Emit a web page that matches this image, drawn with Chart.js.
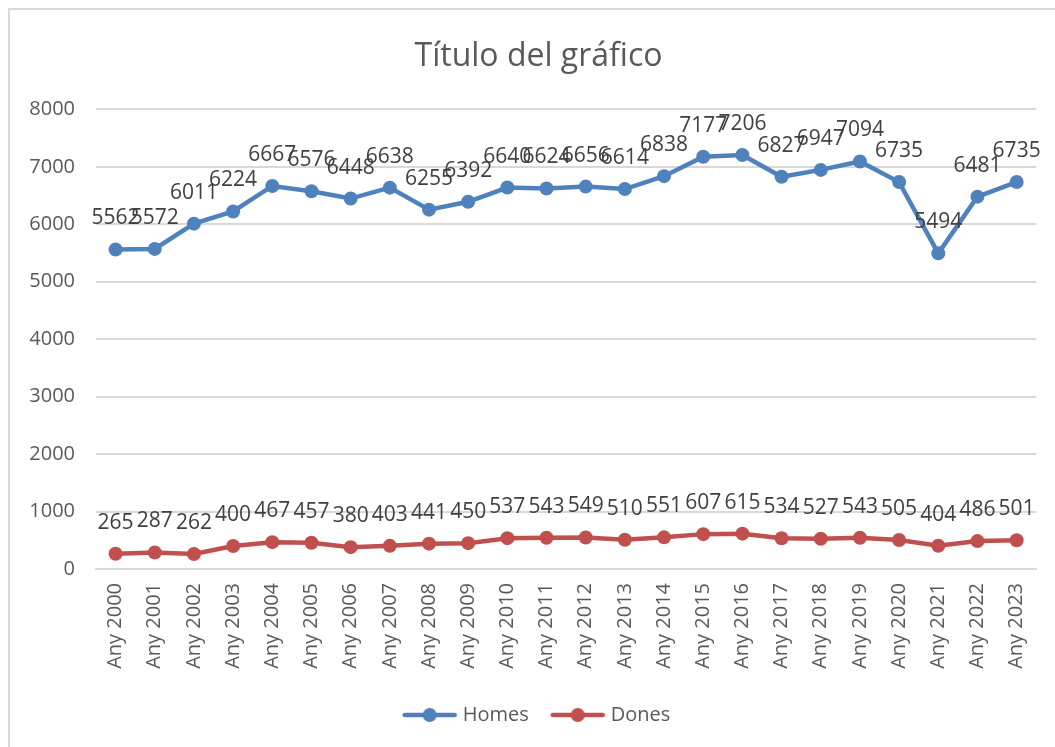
<!DOCTYPE html>
<html>
<head>
<meta charset="utf-8">
<title>Título del gráfico</title>
<script src="https://cdn.jsdelivr.net/npm/chart.js@4/dist/chart.umd.min.js"></script>
<style>
  body { margin: 0; background: #fff; }
  #caja { position: relative; width: 1055px; height: 747px; overflow: hidden; }
  #marco { position: absolute; left: 8px; top: 8px; width: 1100px; height: 800px;
           border-left: 2px solid #d9d9d9; border-top: 2px solid #d9d9d9; }
  canvas { position: absolute; left: 0; top: 0; }
</style>
</head>
<body>
<div id="caja">
  <div id="marco"></div>
  <canvas id="grafico" width="1055" height="747"></canvas>
</div>
<script>
const anys = ["Any 2000", "Any 2001", "Any 2002", "Any 2003", "Any 2004", "Any 2005",
  "Any 2006", "Any 2007", "Any 2008", "Any 2009", "Any 2010", "Any 2011", "Any 2012",
  "Any 2013", "Any 2014", "Any 2015", "Any 2016", "Any 2017", "Any 2018", "Any 2019",
  "Any 2020", "Any 2021", "Any 2022", "Any 2023"];
const homes = [5562, 5572, 6011, 6224, 6667, 6576, 6448, 6638, 6255, 6392, 6640, 6624,
  6656, 6614, 6838, 7177, 7206, 6827, 6947, 7094, 6735, 5494, 6481, 6735];
const dones = [265, 287, 262, 400, 467, 457, 380, 403, 441, 450, 537, 543,
  549, 510, 551, 607, 615, 534, 527, 543, 505, 404, 486, 501];

const AZUL = "#4f81bd";
const ROJO = "#c0504d";
const GRIS = "#595959";
const FUENTE = "'Open Sans', sans-serif";

// icono de leyenda: linea con punto
function iconoLeyenda(color) {
  const c = document.createElement("canvas");
  c.width = 56; c.height = 16;
  const g = c.getContext("2d");
  g.strokeStyle = color;
  g.lineWidth = 4.5;
  g.lineCap = "round";
  g.beginPath(); g.moveTo(3, 8); g.lineTo(53, 8); g.stroke();
  g.fillStyle = color;
  g.beginPath(); g.arc(28, 8, 7, 0, Math.PI * 2); g.fill();
  return c;
}

// etiquetas de datos encima de cada punto
const etiquetas = {
  id: "etiquetas",
  afterLayout(chart) {
    // el eje Y queda estrecho por el padding izquierdo; que no recorte sus etiquetas
    chart.scales.y.left = 0;
  },
  afterDatasetsDraw(chart) {
    const ctx = chart.ctx;
    ctx.save();
    ctx.font = "21px " + FUENTE;
    ctx.fillStyle = "#404040";
    ctx.textAlign = "center";
    ctx.textBaseline = "middle";
    chart.data.datasets.forEach((ds, i) => {
      chart.getDatasetMeta(i).data.forEach((pt, j) => {
        ctx.fillText(String(ds.data[j]), pt.x, pt.y - 31);
      });
    });
    ctx.restore();
  }
};

const ctx = document.getElementById("grafico").getContext("2d");
new Chart(ctx, {
  type: "line",
  data: {
    labels: anys,
    datasets: [
      { label: "Homes", data: homes, borderColor: AZUL, backgroundColor: AZUL,
        borderWidth: 4.5, pointRadius: 7, pointBorderWidth: 0, pointBackgroundColor: AZUL,
        tension: 0, fill: false },
      { label: "Dones", data: dones, borderColor: ROJO, backgroundColor: ROJO,
        borderWidth: 4.5, pointRadius: 7, pointBorderWidth: 0, pointBackgroundColor: ROJO,
        tension: 0, fill: false }
    ]
  },
  options: {
    responsive: false,
    animation: false,
    devicePixelRatio: 1,
    layout: { padding: { top: 7, right: 18, bottom: 12, left: 40 } },
    plugins: {
      title: {
        display: true,
        text: "Título del gráfico",
        color: GRIS,
        font: { family: FUENTE, size: 32, weight: "normal" },
        padding: { top: 31, bottom: 33 }
      },
      legend: {
        position: "bottom",
        labels: {
          color: GRIS,
          font: { family: FUENTE, size: 20 },
          usePointStyle: true,
          pointStyleWidth: 46,
          padding: 26,
          generateLabels(chart) {
            const base = Chart.defaults.plugins.legend.labels.generateLabels(chart);
            base.forEach((l, i) => {
              l.pointStyle = iconoLeyenda(chart.data.datasets[i].borderColor);
            });
            return base;
          }
        }
      },
      tooltip: { enabled: false }
    },
    scales: {
      x: {
        offset: true,
        grid: { display: false, drawTicks: false },
        border: { display: true, color: "#d9d9d9", width: 2 },
        ticks: { color: GRIS, font: { family: FUENTE, size: 20 }, minRotation: 90, maxRotation: 90, padding: 14 },
        afterFit(s) { s.height = 110; }
      },
      y: {
        min: 0,
        max: 8000,
        grid: { color: "#d9d9d9", lineWidth: 2, drawTicks: false },
        border: { display: false },
        ticks: { stepSize: 1000, color: GRIS, font: { family: FUENTE, size: 20 }, padding: 21,
          callback: v => String(v) },
        afterFit(s) { s.width = 56; }
      }
    }
  },
  plugins: [etiquetas]
});
</script>
</body>
</html>
